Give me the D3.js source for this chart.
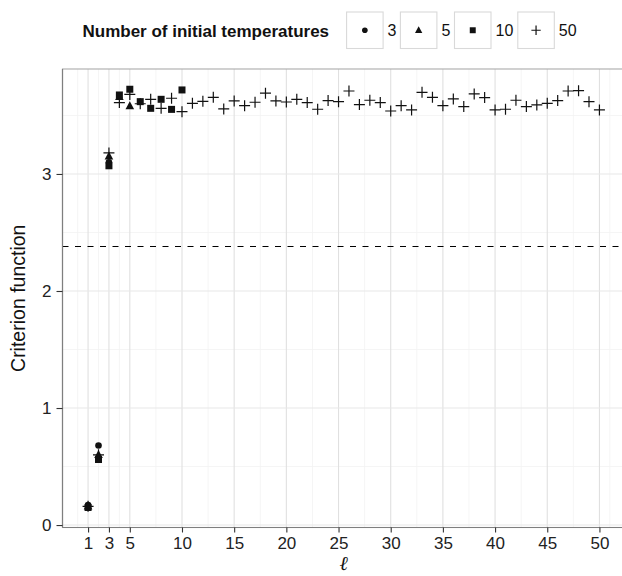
<!DOCTYPE html>
<html>
<head>
<meta charset="utf-8">
<script src="https://cdn.jsdelivr.net/npm/d3@7"></script>
<style>
  html, body { margin: 0; padding: 0; background: #fff; }
  svg { display: block; font-family: "Liberation Sans", Arial, Helvetica, sans-serif; }
</style>
</head>
<body>
<svg id="chart" width="622" height="576"></svg>
<script>
// Criterion function value per ℓ, for each number of initial temperatures
const ell3 = [1, 2, 3];
const crit3 = [0.17, 0.68, 3.10];

const ell5 = [1, 2, 3, 4, 5];
const crit5 = [0.16, 0.60, 3.15, 3.66, 3.58];

const ell10 = [1, 2, 3, 4, 5, 6, 7, 8, 9, 10];
const crit10 = [0.15, 0.56, 3.07, 3.675, 3.724, 3.618, 3.561, 3.638, 3.552, 3.718];

const ell50 = d3.range(1, 51);
const crit50 = [0.16, 0.60, 3.18, 3.61, 3.68, 3.60, 3.638, 3.561, 3.647, 3.532,
                3.604, 3.621, 3.655, 3.556, 3.624, 3.584, 3.613, 3.690, 3.624, 3.615,
                3.638, 3.610, 3.553, 3.627, 3.618, 3.709, 3.593, 3.630, 3.610, 3.538,
                3.584, 3.547, 3.698, 3.655, 3.584, 3.641, 3.576, 3.684, 3.653, 3.547,
                3.553, 3.630, 3.576, 3.590, 3.604, 3.627, 3.709, 3.712, 3.618, 3.547];

const referenceLevel = 2.38;

const groupLabels = ["3", "5", "10", "50"];
const groupShapes = ["circle", "triangle", "square", "plus"];

const xBreaks = [1, 3, 5, 10, 15, 20, 25, 30, 35, 40, 45, 50];
const xMinorBreaks = [0, 2, 4, 7.5, 12.5, 17.5, 22.5, 27.5, 32.5, 37.5, 42.5, 47.5, 51];
const yBreaks = [0, 1, 2, 3];
const yMinorBreaks = [0.5, 1.5, 2.5, 3.5];

const series = [
  { label: groupLabels[0], shape: groupShapes[0], x: ell3, y: crit3 },
  { label: groupLabels[1], shape: groupShapes[1], x: ell5, y: crit5 },
  { label: groupLabels[2], shape: groupShapes[2], x: ell10, y: crit10 },
  { label: groupLabels[3], shape: groupShapes[3], x: ell50, y: crit50 }
];

const svg = d3.select("#chart");
const panel = { left: 62.5, top: 69, right: 625, bottom: 527.5 };

const x = d3.scaleLinear().domain([-1.45, 52.45]).range([panel.left, panel.right]);
const y = d3.scaleLinear().domain([-0.021, 3.897]).range([panel.bottom, panel.top]);

// panel background
svg.append("rect")
  .attr("x", panel.left).attr("y", panel.top)
  .attr("width", panel.right - panel.left).attr("height", panel.bottom - panel.top)
  .attr("fill", "#fff");

const grid = svg.append("g");
grid.selectAll("line.xminor").data(xMinorBreaks).join("line")
  .attr("x1", d => x(d)).attr("x2", d => x(d))
  .attr("y1", panel.top).attr("y2", panel.bottom)
  .attr("stroke", "#f2f2f2").attr("stroke-width", 0.8);
grid.selectAll("line.yminor").data(yMinorBreaks).join("line")
  .attr("y1", d => y(d)).attr("y2", d => y(d))
  .attr("x1", panel.left).attr("x2", panel.right)
  .attr("stroke", "#f2f2f2").attr("stroke-width", 0.8);
grid.selectAll("line.xmajor").data(xBreaks).join("line")
  .attr("x1", d => x(d)).attr("x2", d => x(d))
  .attr("y1", panel.top).attr("y2", panel.bottom)
  .attr("stroke", "#e0e0e0").attr("stroke-width", 1.1);
grid.selectAll("line.ymajor").data(yBreaks).join("line")
  .attr("y1", d => y(d)).attr("y2", d => y(d))
  .attr("x1", panel.left).attr("x2", panel.right)
  .attr("stroke", "#e8e8e8").attr("stroke-width", 1.1);

// panel border
svg.append("rect")
  .attr("x", panel.left).attr("y", panel.top)
  .attr("width", panel.right - panel.left).attr("height", panel.bottom - panel.top)
  .attr("fill", "none").attr("stroke", "#ababab").attr("stroke-width", 1.1);

// reference level
svg.append("line")
  .attr("x1", panel.left).attr("x2", panel.right)
  .attr("y1", y(referenceLevel)).attr("y2", y(referenceLevel))
  .attr("stroke", "#000").attr("stroke-width", 1.1)
  .attr("stroke-dasharray", "6,6.5");

// axes
const xAxis = d3.axisBottom(x).tickValues(xBreaks).tickSize(5).tickPadding(4).tickFormat(d3.format("d"));
const yAxis = d3.axisLeft(y).tickValues(yBreaks).tickSize(6).tickPadding(5).tickFormat(d3.format("d"));

const gx = svg.append("g").attr("transform", `translate(0,${panel.bottom})`).call(xAxis);
const gy = svg.append("g").attr("transform", `translate(${panel.left},0)`).call(yAxis);
[gx, gy].forEach(g => {
  g.select(".domain").attr("stroke", "#7f7f7f").attr("stroke-width", 1.2);
  g.selectAll(".tick line").attr("stroke", "#333").attr("stroke-width", 1.1);
  g.selectAll(".tick text").attr("fill", "#222").attr("font-size", 17)
    .attr("font-family", "\"Liberation Sans\", Arial, sans-serif");
});
gx.select(".domain").attr("d", `M${panel.left},0H${panel.right}`);
gy.select(".domain").attr("d", `M0,${panel.bottom}V${panel.top}`);

// axis titles
svg.append("text")
  .attr("transform", `translate(25,${(panel.top + panel.bottom) / 2}) rotate(-90)`)
  .attr("text-anchor", "middle")
  .attr("font-size", 19.5).attr("fill", "#111")
  .text("Criterion function");
svg.append("text")
  .attr("x", (panel.left + panel.right) / 2).attr("y", 570)
  .attr("text-anchor", "middle")
  .attr("font-size", 20).attr("font-style", "italic").attr("fill", "#111")
  .attr("font-family", "\"DejaVu Serif\", serif")
  .text("ℓ");

// marker shapes
function drawMarker(sel, shape, cx, cy, scale) {
  const s = scale || 1;
  if (shape === "circle") {
    sel.append("circle").attr("cx", cx).attr("cy", cy).attr("r", 3.3 * s).attr("fill", "#111");
  } else if (shape === "triangle") {
    const h = 8 * s, w = 8.6 * s;
    sel.append("path")
      .attr("d", `M${cx},${cy - h * 0.6}L${cx + w / 2},${cy + h * 0.4}L${cx - w / 2},${cy + h * 0.4}Z`)
      .attr("fill", "#111");
  } else if (shape === "square") {
    const a = 7 * s;
    sel.append("rect").attr("x", cx - a / 2).attr("y", cy - a / 2)
      .attr("width", a).attr("height", a).attr("fill", "#111");
  } else {
    const r = 5.5 * s;
    sel.append("path")
      .attr("d", `M${cx - r},${cy}H${cx + r}M${cx},${cy - r}V${cy + r}`)
      .attr("stroke", "#111").attr("stroke-width", 1.2).attr("fill", "none");
  }
}

const marks = svg.append("g");
series.forEach(s => {
  const g = marks.append("g").attr("class", "series-" + s.label);
  s.x.forEach((xv, i) => drawMarker(g, s.shape, x(xv), y(s.y[i])));
});

// legend
const legend = svg.append("g");
legend.append("text")
  .attr("x", 82.5).attr("y", 36.5)
  .attr("font-size", 17).attr("font-weight", "bold").attr("fill", "#111")
  .text("Number of initial temperatures");

const keyX = [346.6, 400.4, 454.5, 517.8];
const keySize = 36.5;
const keyTop = 12;
series.forEach((s, i) => {
  const kx = keyX[i];
  legend.append("rect")
    .attr("x", kx).attr("y", keyTop).attr("width", keySize).attr("height", keySize)
    .attr("fill", "#fff").attr("stroke", "#d9d9d9").attr("stroke-width", 1.1);
  drawMarker(legend, s.shape, kx + keySize / 2, keyTop + keySize / 2, 0.85);
  legend.append("text")
    .attr("x", kx + keySize + 4.5).attr("y", keyTop + keySize / 2 + 5.5)
    .attr("font-size", 16).attr("fill", "#111")
    .text(s.label);
});
</script>
</body>
</html>
